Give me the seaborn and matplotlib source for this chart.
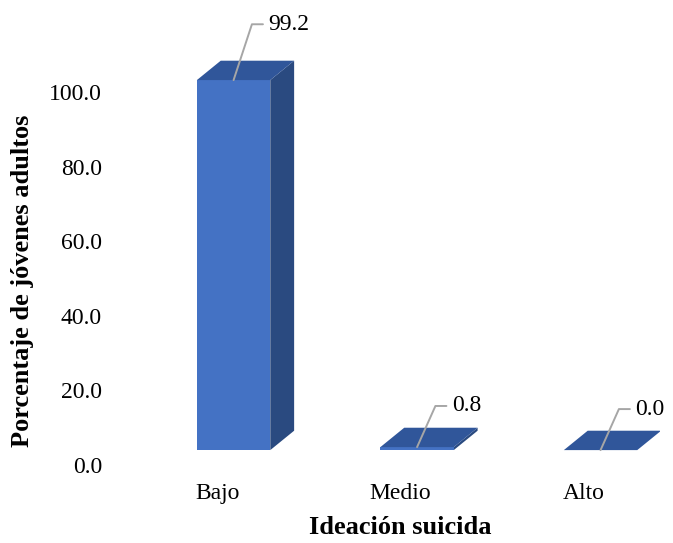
import numpy as np
import matplotlib.pyplot as plt
import seaborn as sns
from matplotlib.patches import Polygon

# ==============================
# DATOS
# ==============================
categorias = ["Bajo", "Medio", "Alto"]
porcentajes = [99.2, 0.8, 0.0]
ticks_y = [0, 20, 40, 60, 80, 100]

# ==============================
# ESTILO
# ==============================
sns.set_style("white")
plt.rcParams["font.family"] = ["Liberation Serif", "DejaVu Serif"]
plt.rcParams["text.color"] = "black"
plt.rcParams["axes.labelcolor"] = "black"
plt.rcParams["xtick.color"] = "black"
plt.rcParams["ytick.color"] = "black"

COLOR_FRENTE = "#4472C4"
COLOR_TOPE = "#30569A"
COLOR_LADO = "#2A4A80"

BASE = 4.0        # altura del piso 3D (estilo Excel)
ANCHO = 0.40
DESPL = 0.09      # corrimiento de las barras respecto al tick
DX, DY = 0.13, 5.2

fig = plt.figure(figsize=(6.73, 5.43), dpi=100)
ax = fig.add_axes([120 / 673, 0.1436, 540 / 673, 0.8243])

df_x = np.arange(len(categorias)) + DESPL
sns.barplot(x=df_x, y=porcentajes, bottom=BASE, native_scale=True,
            width=ANCHO, color=COLOR_FRENTE, saturation=1, ax=ax,
            edgecolor="none", zorder=3)

for i, p in enumerate(ax.patches):
    x0 = p.get_x()
    x1 = x0 + p.get_width()
    y0 = p.get_y()
    y1 = y0 + p.get_height()
    tope = Polygon([(x0, y1), (x1, y1), (x1 + DX, y1 + DY), (x0 + DX, y1 + DY)],
                   closed=True, facecolor=COLOR_TOPE, edgecolor="none", zorder=4)
    lado = Polygon([(x1, y0), (x1 + DX, y0 + DY), (x1 + DX, y1 + DY), (x1, y1)],
                   closed=True, facecolor=COLOR_LADO, edgecolor="none", zorder=2)
    ax.add_patch(lado)
    ax.add_patch(tope)

    # etiqueta con línea guía
    v = porcentajes[i]
    xc = x0 + p.get_width() / 2
    y_lab = y1 + 11 + 0.04 * v
    ax.plot([xc, xc + 0.10, xc + 0.16], [y1, y_lab, y_lab],
            color="#A6A6A6", lw=1.4, zorder=5, clip_on=False)
    ax.text(xc + 0.19, y_lab, f"{v:.1f}", fontsize=17, va="center",
            ha="left", zorder=6, clip_on=False)

ax.set_xlim(-0.529, 2.414)
ax.set_ylim(0, 120)
ax.set_xticks(range(len(categorias)))
ax.set_xticklabels(categorias, fontsize=17)
ax.set_yticks(ticks_y)
ax.set_yticklabels([f"{t:.1f}" for t in ticks_y], fontsize=17)
ax.tick_params(length=0, pad=13)
for s in ax.spines.values():
    s.set_visible(False)

ax.set_xlabel("Ideación suicida", fontsize=19, fontweight="bold")
ax.set_ylabel("Porcentaje de jóvenes adultos", fontsize=19, fontweight="bold")
ax.xaxis.set_label_coords(0.5185, -0.115)
ax.yaxis.set_label_coords(-0.16, 0.411)

plt.savefig("out.png", dpi=100)
